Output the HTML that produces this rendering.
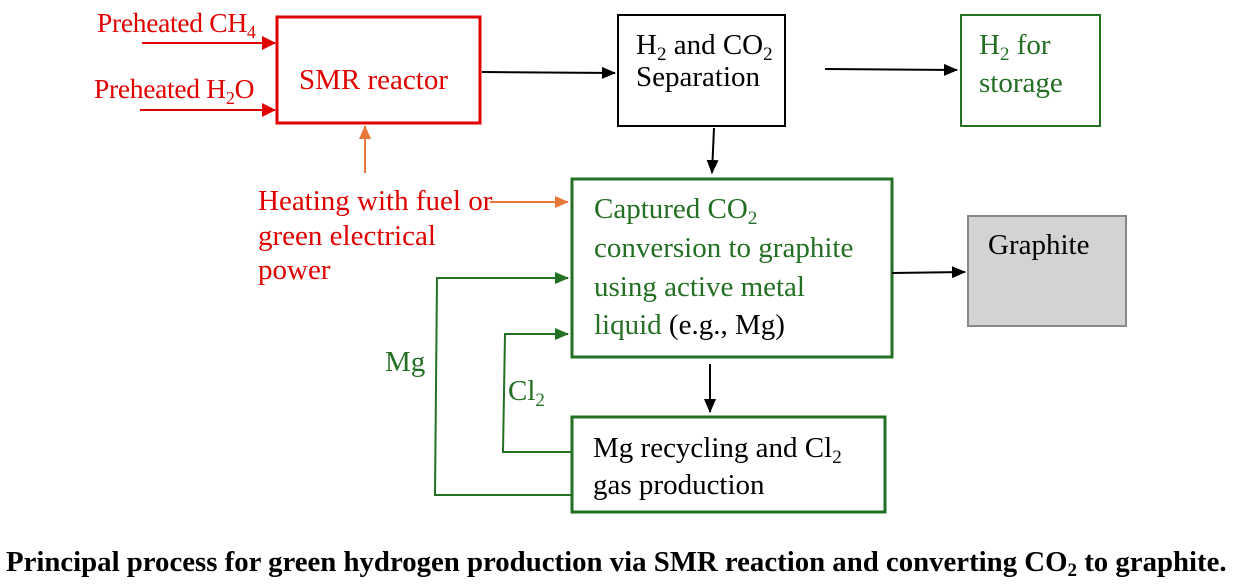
<!DOCTYPE html>
<html><head><style>
body{margin:0;background:#fff;}
svg text{font-family:"Liberation Serif",serif;font-size:29px;}
</style></head><body>
<svg width="1243" height="582" xmlns="http://www.w3.org/2000/svg">
<defs>
<marker id="k" markerWidth="14" markerHeight="12" refX="13" refY="6" orient="auto" markerUnits="userSpaceOnUse"><path d="M0,0 L14,6 L0,12z" fill="#000"/></marker>
<marker id="o" markerWidth="14" markerHeight="12" refX="13" refY="6" orient="auto" markerUnits="userSpaceOnUse"><path d="M0,0 L14,6 L0,12z" fill="#e8773a"/></marker>
<marker id="g" markerWidth="14" markerHeight="12" refX="13" refY="6" orient="auto" markerUnits="userSpaceOnUse"><path d="M0,0 L14,6 L0,12z" fill="#236f23"/></marker>
<marker id="rr" markerWidth="14" markerHeight="14" refX="13" refY="7" orient="auto" markerUnits="userSpaceOnUse"><path d="M0,0 L14,7 L0,14z" fill="#e00000"/></marker>
</defs>
<rect x="277" y="17" width="203" height="106" fill="none" stroke="#e00000" stroke-width="3"/>
<rect x="618" y="15" width="167" height="111" fill="none" stroke="#000" stroke-width="2"/>
<rect x="961" y="15" width="139" height="111" fill="none" stroke="#236f23" stroke-width="2"/>
<rect x="572" y="179" width="320" height="178" fill="none" stroke="#236f23" stroke-width="3"/>
<rect x="968" y="216" width="158" height="110" fill="#d3d3d3" stroke="#888" stroke-width="2"/>
<rect x="572" y="417" width="313" height="95" fill="none" stroke="#236f23" stroke-width="3"/>
<g stroke-width="2" fill="none">
<line x1="142" y1="43" x2="275" y2="43" stroke="#e00000" marker-end="url(#rr)"/>
<line x1="140" y1="110" x2="275" y2="110" stroke="#e00000" marker-end="url(#rr)"/>
<line x1="482" y1="72" x2="615" y2="73" stroke="#000" marker-end="url(#k)"/>
<line x1="825" y1="69" x2="957" y2="70" stroke="#000" marker-end="url(#k)"/>
<line x1="714" y1="128" x2="712" y2="173" stroke="#000" marker-end="url(#k)"/>
<line x1="892" y1="273" x2="965" y2="272" stroke="#000" marker-end="url(#k)"/>
<line x1="710" y1="364" x2="710" y2="412" stroke="#000" marker-end="url(#k)"/>
<line x1="365" y1="173" x2="365" y2="126" stroke="#e8773a" marker-end="url(#o)"/>
<line x1="490" y1="202" x2="568" y2="202" stroke="#e8773a" marker-end="url(#o)"/>
<polyline points="572,495 435,495 437,278 568,278" stroke="#236f23" marker-end="url(#g)"/>
<polyline points="572,452 503,452 505,334 568,334" stroke="#236f23" marker-end="url(#g)"/>
</g>
<g fill="#e00000">
<text x="97" y="32" style="font-size:27.5px;letter-spacing:-0.3px">Preheated CH<tspan font-size="18" dy="6">4</tspan></text>
<text x="94" y="98" style="font-size:27.5px;letter-spacing:-0.3px">Preheated H<tspan font-size="18" dy="6">2</tspan><tspan dy="-6">O</tspan></text>
<text x="299" y="89">SMR reactor</text>
<text x="258" y="210">Heating with fuel or</text>
<text x="258" y="245">green electrical</text>
<text x="258" y="279">power</text>
</g>
<text x="636" y="54">H<tspan font-size="19" dy="6">2</tspan><tspan dy="-6"> and CO</tspan><tspan font-size="19" dy="6">2</tspan></text>
<text x="636" y="86">Separation</text>
<g fill="#236f23">
<text x="979" y="54">H<tspan font-size="19" dy="6">2</tspan><tspan dy="-6"> for</tspan></text>
<text x="979" y="92">storage</text>
<text x="594" y="218">Captured CO<tspan font-size="19" dy="6">2</tspan></text>
<text x="594" y="257">conversion to graphite</text>
<text x="594" y="296">using active metal</text>
<text x="594" y="334">liquid <tspan fill="#000">(e.g., Mg)</tspan></text>
<text x="385" y="371">Mg</text>
<text x="508" y="400">Cl<tspan font-size="19" dy="6">2</tspan></text>
</g>
<text x="988" y="254">Graphite</text>
<text x="593" y="457">Mg recycling and Cl<tspan font-size="19" dy="6">2</tspan></text>
<text x="593" y="494">gas production</text>
<text x="6" y="571" font-weight="bold" style="font-size:28.8px">Principal process for green hydrogen production via SMR reaction and converting CO<tspan font-size="19" dy="5">2</tspan><tspan dy="-5"> to graphite.</tspan></text>
</svg>
</body></html>
